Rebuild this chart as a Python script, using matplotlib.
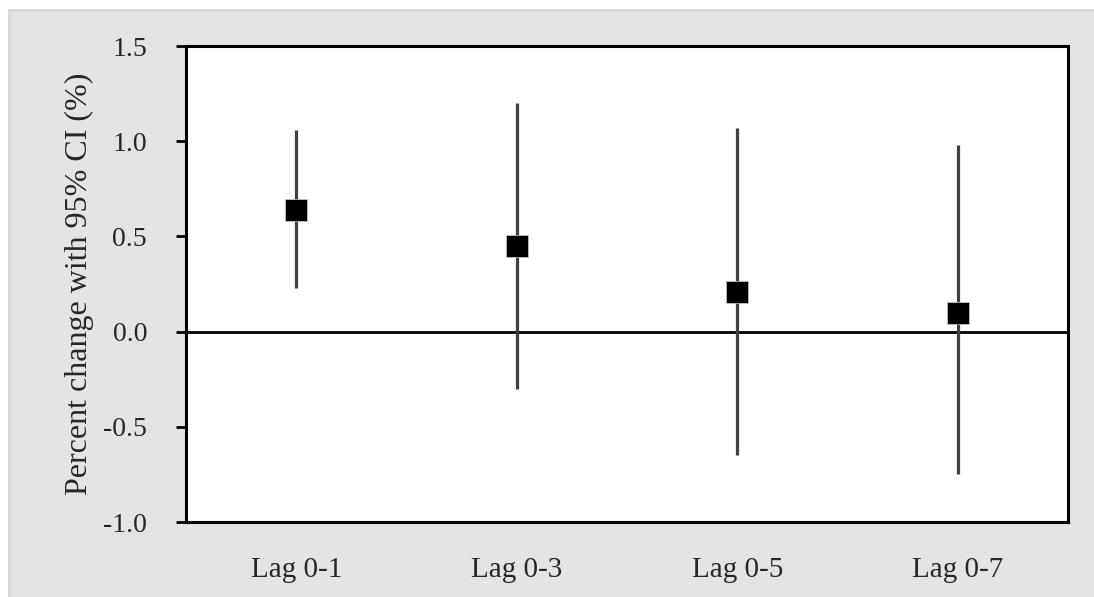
import matplotlib.pyplot as plt
from matplotlib.patches import Rectangle

lags = ["Lag 0-1", "Lag 0-3", "Lag 0-5", "Lag 0-7"]
estimate = [0.64, 0.45, 0.21, 0.10]
lower = [0.23, -0.30, -0.65, -0.75]
upper = [1.06, 1.20, 1.07, 0.98]
yticks = [-1.0, -0.5, 0.0, 0.5, 1.0, 1.5]

plt.rcParams["font.family"] = ["Liberation Serif", "DejaVu Serif"]

fig = plt.figure(figsize=(10.94, 5.97), dpi=100, facecolor="white")

# grey panel behind the plot, with a thin darker edge on top and left
W, H = 1094, 597
fig.add_artist(Rectangle((8 / W, 0), 1 - 8 / W, 1 - 9 / H, transform=fig.transFigure,
                         facecolor="#d9d9d9", edgecolor="none", zorder=-2))
fig.add_artist(Rectangle((11 / W, 0), 1 - 11 / W, 1 - 12 / H, transform=fig.transFigure,
                         facecolor="#e4e4e4", edgecolor="none", zorder=-1))

ax = fig.add_axes([186 / W, 75 / H, 882 / W, 476 / H])
ax.set_facecolor("white")

x = list(range(len(lags)))
for i in x:
    ax.plot([i, i], [lower[i], upper[i]], color="#404040", lw=2.3, solid_capstyle="butt", zorder=2)
ax.scatter(x, estimate, marker="s", s=16.5 ** 2, color="black", edgecolor="#cccccc",
           linewidth=0.5, zorder=3)
ax.axhline(0, color="black", lw=2.0, zorder=1)

ax.set_xlim(-0.5, len(lags) - 0.5)
ax.set_ylim(-1.0, 1.5)
ax.set_xticks(x)
ax.set_xticklabels(lags)
ax.set_yticks(yticks)
ax.set_yticklabels([f"{v:.1f}" for v in yticks])
ax.tick_params(axis="x", length=0, pad=25, labelsize=21, labelcolor="#262626")
ax.tick_params(axis="y", length=7, width=2, direction="out", pad=21, labelsize=20,
               labelcolor="#262626")
for s in ax.spines.values():
    s.set_linewidth(2.2)
    s.set_color("black")

ax.set_ylabel("Percent change with 95% CI (%)", fontsize=23, color="#262626", labelpad=7)

fig.savefig("out.png", dpi=100, facecolor=fig.get_facecolor())
